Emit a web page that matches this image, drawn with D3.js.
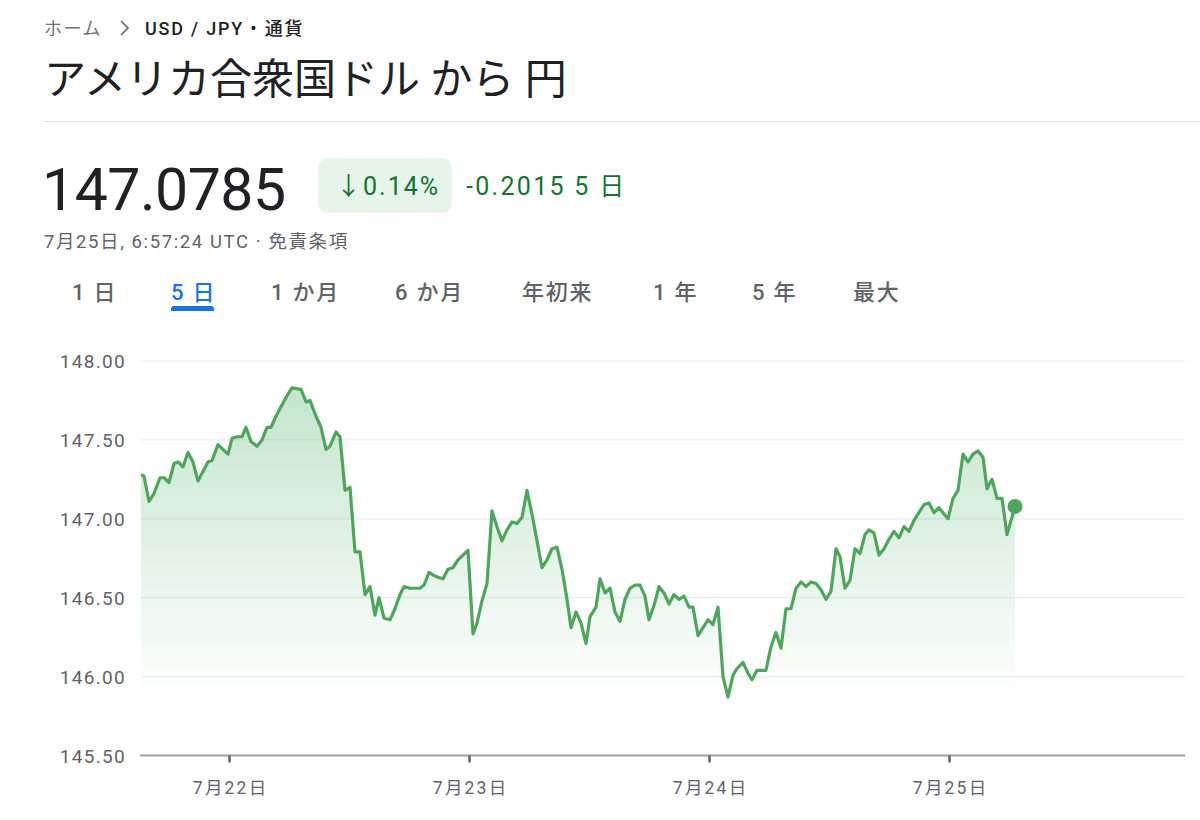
<!DOCTYPE html>
<html><head><meta charset="utf-8">
<script src="https://cdn.jsdelivr.net/npm/d3@7"></script>
<style>
html,body{margin:0;padding:0;background:#fff;}
svg{display:block;font-family:Roboto,"Noto Sans CJK JP",sans-serif;}
</style></head>
<body><svg id="c" width="1200" height="820"></svg>
<script>
// hours from 2024-07-22 00:00
const hours = [
-8.8,-8.5,-8.0,-7.5,-6.9,-6.5,-6.0,-5.5,-5.1,-4.6,
-4.1,-3.6,-3.1,-2.6,-2.1,-1.7,-1.1,-0.6,-0.1,0.3,
0.8,1.3,1.7,2.2,2.8,3.3,3.8,4.2,4.7,5.2,
5.8,6.3,7.2,7.7,8.1,8.7,9.2,9.7,10.1,10.7,
11.1,11.6,12.1,12.6,13.1,13.6,14.1,14.6,15.0,15.5,
16.1,16.6,17.1,17.5,18.1,18.6,19.1,19.5,20.0,20.5,
20.9,21.4,21.9,22.4,22.9,23.4,23.9,24.4,24.8,25.3,
25.8,26.3,26.8,27.3,27.8,28.3,28.8,29.3,29.8,30.3,
30.8,31.3,31.8,32.3,32.8,33.3,33.8,34.2,34.7,35.2,
35.7,36.1,36.7,37.1,37.6,38.1,38.6,39.1,39.6,40.1,
40.6,41.1,41.6,42.0,42.5,43.0,43.5,44.0,44.5,45.0,
45.5,46.0,46.4,46.9,47.4,47.9,48.4,48.9,49.4,49.9,
50.4,50.8,51.4,51.9,52.3,52.8,53.3,53.7,54.2,54.7,
55.2,55.7,56.2,56.7,57.2,57.7,58.2,58.7,59.2,59.7,
60.2,60.7,61.1,61.6,62.1,62.6,63.1,63.6,64.0,64.5,
65.0,65.5,66.0,66.5,67.0,67.5,68.0,68.5,69.0,69.5,
70.0,70.5,71.0,71.5,71.9,72.4,72.9,73.4,73.9,74.4,
74.9,75.4,75.8,76.3,76.8,77.3,77.8,78.6];
const values = [
147.28,147.27,147.11,147.16,147.26,147.26,147.23,147.35,147.36,147.33,
147.42,147.36,147.24,147.30,147.36,147.37,147.47,147.44,147.41,147.51,
147.52,147.52,147.58,147.49,147.46,147.50,147.58,147.58,147.65,147.71,
147.78,147.83,147.82,147.74,147.75,147.65,147.58,147.44,147.46,147.55,
147.52,147.18,147.20,146.79,146.79,146.52,146.57,146.39,146.50,146.37,
146.36,146.43,146.52,146.57,146.56,146.56,146.56,146.58,146.66,146.64,
146.63,146.62,146.68,146.69,146.74,146.77,146.80,146.27,146.34,146.48,
146.59,147.05,146.95,146.86,146.93,146.98,146.97,147.01,147.18,147.03,
146.86,146.69,146.74,146.81,146.82,146.68,146.49,146.31,146.41,146.34,
146.21,146.38,146.44,146.62,146.53,146.56,146.41,146.35,146.49,146.56,
146.58,146.58,146.51,146.36,146.45,146.57,146.53,146.46,146.52,146.49,
146.51,146.44,146.44,146.26,146.31,146.36,146.33,146.44,146.00,145.87,
146.01,146.05,146.09,146.02,145.98,146.04,146.04,146.04,146.19,146.28,
146.18,146.43,146.43,146.56,146.60,146.57,146.60,146.59,146.55,146.49,
146.54,146.81,146.76,146.56,146.61,146.81,146.78,146.90,146.93,146.91,
146.77,146.81,146.87,146.92,146.88,146.95,146.92,146.99,147.04,147.09,
147.10,147.04,147.07,147.03,147.00,147.13,147.18,147.41,147.36,147.41,
147.43,147.39,147.19,147.25,147.13,147.13,146.90,147.0785];
const yTicks = [145.5,146.0,146.5,147.0,147.5,148.0];
const dayTicks = [0,24,48,72];
const dayLabels = ["7月22日","7月23日","7月24日","7月25日"];
const tabs = ["1 日","5 日","1 か月","6 か月","年初来","1 年","5 年","最大"];
const tabX = [72,171,271,395,522,653,752,853];

const base = Date.UTC(2024,6,22,0,0,0);
const toDate = h => new Date(base + h*3600e3);
const data = hours.map((h,i)=>({t:toDate(h), v:values[i]}));

const svg = d3.select("#c");
const x = d3.scaleUtc().domain([toDate(-8.9), toDate(95.6)]).range([140,1185]);
const y = d3.scaleLinear().domain([145.5,148]).range([755.5,361]);

// header
svg.append("text").attr("x",44).attr("y",35).attr("font-size",18).attr("fill","#70757a").attr("letter-spacing",1.5).text("ホーム");
svg.append("path").attr("d","M121,21 L128,28 L121,35").attr("fill","none").attr("stroke","#5f6368").attr("stroke-width",1.6);
svg.append("text").attr("x",145).attr("y",35).attr("font-size",18).attr("font-weight",500).attr("fill","#202124").attr("letter-spacing",1.8).text("USD / JPY • 通貨");
svg.append("text").attr("x",44).attr("y",94).attr("font-size",42).attr("fill","#202124").text("アメリカ合衆国ドル から 円");
svg.append("line").attr("x1",44).attr("x2",1200).attr("y1",121.5).attr("y2",121.5).attr("stroke","#e0e0e0").attr("stroke-width",1);

svg.append("text").attr("x",42).attr("y",210).attr("font-size",59).attr("fill","#202124").attr("letter-spacing",-0.5).text("147.0785");
svg.append("rect").attr("x",318).attr("y",158).attr("width",134).attr("height",55).attr("rx",10).attr("fill","#e6f4ea");
svg.append("text").attr("x",336).attr("y",195).attr("font-size",25).attr("fill","#137333").attr("letter-spacing",2).text("↓0.14%");
svg.append("text").attr("x",466).attr("y",195).attr("font-size",25).attr("fill","#137333").attr("letter-spacing",2.3).text("-0.2015 5 日");
svg.append("text").attr("x",44).attr("y",248).attr("font-size",18.5).attr("fill","#5f6368").attr("letter-spacing",1.6).text("7月25日, 6:57:24 UTC · 免責条項");

tabs.forEach((t,i)=>{
  svg.append("text").attr("x",tabX[i]).attr("y",300).attr("font-size",22).attr("font-weight",500)
    .attr("letter-spacing",1.8).attr("fill", i===1?"#1a73e8":"#5f6368").text(t);
});
svg.append("path").attr("d","M171,311 L171,309 Q171,306 174,306 L211,306 Q214,306 214,309 L214,311 Z").attr("fill","#1a73e8");

// gradient
const defs = svg.append("defs");
const g = defs.append("linearGradient").attr("id","fillG").attr("gradientUnits","userSpaceOnUse")
  .attr("x1",0).attr("x2",0).attr("y1",380).attr("y2",700);
g.append("stop").attr("offset","0%").attr("stop-color","#34a853").attr("stop-opacity",0.30);
g.append("stop").attr("offset","100%").attr("stop-color","#34a853").attr("stop-opacity",0.0);

// grid
svg.append("g").selectAll("line").data(yTicks.filter(d=>d>145.5)).join("line")
  .attr("x1",140).attr("x2",1185).attr("y1",d=>y(d)).attr("y2",d=>y(d))
  .attr("stroke","#ececec").attr("stroke-width",1.2);

// y labels
svg.append("g").selectAll("text").data(yTicks).join("text")
  .attr("x",126).attr("y",d=>y(d)+7).attr("text-anchor","end").attr("font-size",19)
  .attr("letter-spacing",1.3).attr("fill","#5f6368").text(d=>d.toFixed(2));

// area & line
svg.append("path").datum(data).attr("fill","url(#fillG)")
  .attr("d", d3.area().x(d=>x(d.t)).y0(700).y1(d=>y(d.v)));
svg.append("path").datum(data).attr("fill","none").attr("stroke","#4fa55c").attr("stroke-width",3.2)
  .attr("stroke-linejoin","round").attr("d", d3.line().x(d=>x(d.t)).y(d=>y(d.v)));
const last = data[data.length-1];
svg.append("circle").attr("cx",x(last.t)).attr("cy",y(last.v)).attr("r",7.5).attr("fill","#4fa55c");

// x axis
const xAxis = d3.axisBottom(x).tickValues(dayTicks.map(toDate)).tickFormat((d,i)=>dayLabels[i]).tickSize(7).tickPadding(19);
const ax = svg.append("g").attr("transform",`translate(0,${y(145.5)})`).call(xAxis);
ax.select(".domain").attr("stroke","#9aa0a6").attr("stroke-width",2).attr("d","M140,0H1185");
ax.selectAll(".tick line").attr("stroke","#5f6368").attr("stroke-width",2.5);
ax.selectAll(".tick text").attr("font-size",17.5).attr("fill","#5f6368").attr("letter-spacing",2.2).attr("dx",1.1)
  .attr("font-family",'Roboto,"Noto Sans CJK JP",sans-serif');
</script></body></html>
